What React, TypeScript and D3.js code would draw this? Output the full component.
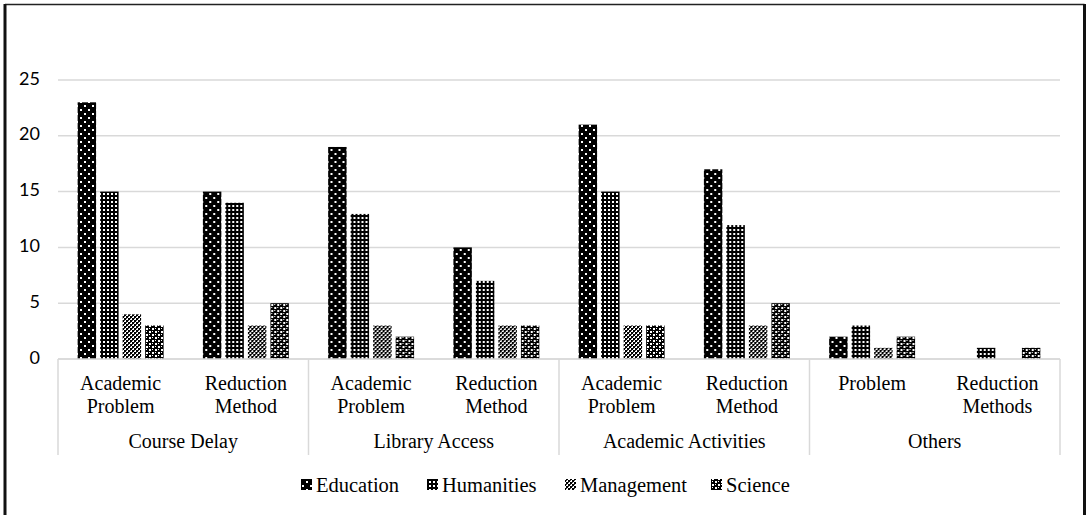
import React from "react";
import * as d3 from "d3";

const groups = ["Course Delay", "Library Access", "Academic Activities", "Others"];
const subCategories = [
  ["Academic\nProblem", "Reduction\nMethod"],
  ["Academic\nProblem", "Reduction\nMethod"],
  ["Academic\nProblem", "Reduction\nMethod"],
  ["Problem", "Reduction\nMethods"],
];
const series = ["Education", "Humanities", "Management", "Science"];
const education = [23, 15, 19, 10, 21, 17, 2, 0];
const humanities = [15, 14, 13, 7, 15, 12, 3, 1];
const management = [4, 3, 3, 3, 3, 3, 1, 0];
const science = [3, 5, 2, 3, 3, 5, 2, 1];
const yTicks = [0, 5, 10, 15, 20, 25];

const values = [education, humanities, management, science];

const W = 1086;
const H = 515;
const plotLeft = 58;
const plotRight = 1060;
const plotTop = 80;
const plotBottom = 359;

export default function App() {
  const cats = subCategories.flatMap((subs, gi) => subs.map((s, si) => `${gi}-${si}`));
  const x = d3.scaleBand<string>().domain(cats).range([plotLeft, plotRight]).padding(0);
  const xi = d3
    .scaleBand<string>()
    .domain(series)
    .range([0, x.bandwidth()])
    .paddingInner(0.18)
    .paddingOuter(0.873);
  const y = d3.scaleLinear().domain([0, 25]).range([plotBottom, plotTop]);
  const groupW = x.bandwidth() * 2;
  const serifStyle = { fontFamily: '"Liberation Serif", "Times New Roman", "DejaVu Serif", serif' };
  const legendX = [301, 427, 565, 711];

  return (
    <svg
      width={W}
      height={H}
      style={{ position: "absolute", left: 0, top: 0, background: "#fff" }}
    >
      <defs>
        <pattern id="p0" width="8" height="8" patternUnits="userSpaceOnUse">
          <rect width="8" height="8" fill="#000" />
          <rect x="2" y="1" width="2" height="2" fill="#fff" />
          <rect x="6" y="5" width="2" height="2" fill="#fff" />
        </pattern>
        <pattern id="p1" width="4" height="4" patternUnits="userSpaceOnUse">
          <rect width="4" height="4" fill="#000" />
          <rect x="1" y="1" width="2" height="2" fill="#fff" />
        </pattern>
        <pattern id="p2" width="4" height="4" patternUnits="userSpaceOnUse">
          <rect width="4" height="4" fill="#fff" />
          <rect x="0" y="0" width="2" height="2" fill="#000" />
          <rect x="2" y="2" width="2" height="2" fill="#000" />
          <rect x="2" y="0" width="1" height="1" fill="#444" />
          <rect x="0" y="2" width="1" height="1" fill="#444" />
        </pattern>
        <pattern id="p3" width="6" height="6" patternUnits="userSpaceOnUse">
          <rect width="6" height="6" fill="#000" />
          <rect x="1" y="1" width="2" height="2" fill="#fff" />
          <rect x="4" y="4" width="2" height="2" fill="#fff" />
          <rect x="4" y="1" width="1" height="1" fill="#fff" />
          <rect x="1" y="4" width="1" height="1" fill="#fff" />
        </pattern>
      </defs>

      {/* frame */}
      <line x1={5} y1={4.5} x2={1084.5} y2={4.5} stroke="#222" strokeWidth={1.5} />
      <line x1={5} y1={4} x2={5} y2={H} stroke="#111" strokeWidth={3} />
      <line x1={1084.5} y1={4} x2={1084.5} y2={H} stroke="#111" strokeWidth={3} />

      {/* gridlines */}
      {yTicks.map((t) => (
        <g key={t}>
          <line
            x1={plotLeft}
            x2={plotRight}
            y1={y(t)}
            y2={y(t)}
            stroke="#d9d9d9"
            strokeWidth={1.5}
          />
          <text
            x={40}
            y={y(t)}
            textAnchor="end"
            dominantBaseline="middle"
            style={{ fontFamily: "Lato, 'Open Sans', sans-serif" }}
            fontSize={18}
            fill="#000"
          >
            {t}
          </text>
        </g>
      ))}

      {/* bars */}
      {cats.map((c, ci) => (
        <g key={c} transform={`translate(${x(c)},0)`}>
          {series.map((s, si) => {
            const v = values[si][ci];
            if (v <= 0) return null;
            return (
              <rect
                key={s}
                x={xi(s)}
                y={y(v)}
                width={xi.bandwidth()}
                height={y(0) - y(v)}
                fill={`url(#p${si})`}
              />
            );
          })}
        </g>
      ))}

      {/* category axis */}
      <line x1={plotLeft} x2={plotRight} y1={plotBottom} y2={plotBottom} stroke="#d9d9d9" strokeWidth={1.5} />
      {groups.map((g, gi) => {
        const gx = plotLeft + gi * groupW;
        return (
          <g key={g}>
            <line x1={gx} x2={gx} y1={plotBottom} y2={455} stroke="#d9d9d9" strokeWidth={1.5} />
            {gi === groups.length - 1 && (
              <line
                x1={gx + groupW}
                x2={gx + groupW}
                y1={plotBottom}
                y2={455}
                stroke="#d9d9d9"
                strokeWidth={1.5}
              />
            )}
            <text
              x={gx + groupW / 2}
              y={448}
              textAnchor="middle"
              style={serifStyle}
              fontSize={20}
            >
              {g}
            </text>
            {subCategories[gi].map((s, si) => {
              const cx = (x(`${gi}-${si}`) as number) + x.bandwidth() / 2;
              return (
                <text key={si} textAnchor="middle" style={serifStyle} fontSize={20}>
                  {s.split("\n").map((line, li) => (
                    <tspan key={li} x={cx} y={390 + li * 23}>
                      {line}
                    </tspan>
                  ))}
                </text>
              );
            })}
          </g>
        );
      })}

      {/* legend */}
      {series.map((s, si) => (
        <g key={s}>
          <rect x={legendX[si]} y={479} width={11} height={11} fill={`url(#p${si})`} />
          <text x={legendX[si] + 15} y={492} style={serifStyle} fontSize={20.5}>
            {s}
          </text>
        </g>
      ))}
    </svg>
  );
}
